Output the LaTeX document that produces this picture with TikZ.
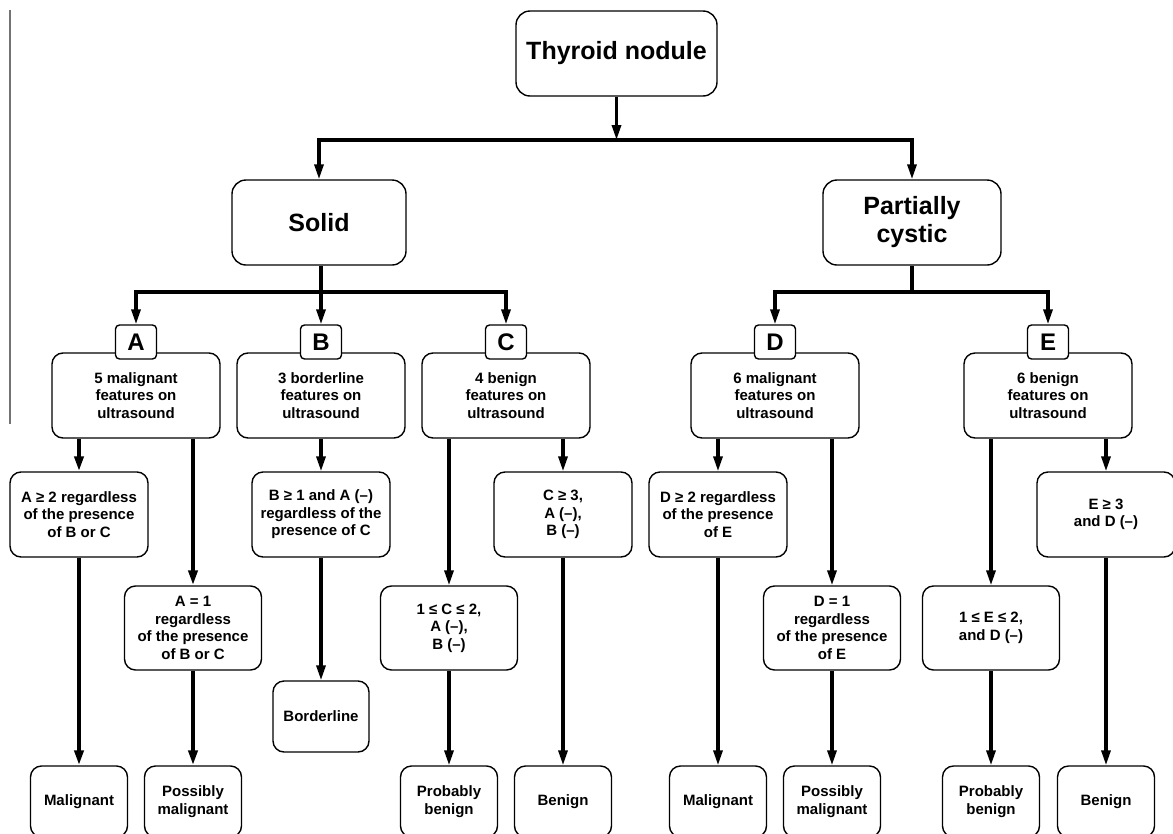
\documentclass[tikz,border=0pt]{standalone}
\usepackage{fontspec}
\setmainfont{Liberation Sans}
\usetikzlibrary{arrows.meta}
\tikzset{
  box/.style={draw, line width=1.4pt, rounded corners=11pt, fill=white, align=center, inner sep=0pt,
    font=\bfseries\fontsize{15}{17.4}\selectfont},
  big/.style={box, rounded corners=14pt, font=\bfseries\fontsize{25}{28}\selectfont},
  letterbox/.style={box, rounded corners=4pt, minimum width=41pt, minimum height=34pt,
    font=\bfseries\fontsize{24}{24}\selectfont},
  feat/.style={box, minimum width=168pt, minimum height=85pt},
  condup/.style={box, minimum width=138pt, minimum height=85pt},
  condlow/.style={box, minimum width=137pt, minimum height=84pt},
  outbox/.style={box, minimum width=97pt, minimum height=71pt},
  conn/.style={line width=3.2pt},
  arr/.style={conn, -{Triangle[width=9pt,length=15pt]}},
  thickarr/.style={arr, line width=4pt},
}
\begin{document}
\begin{tikzpicture}[x=1pt,y=-1pt]
\useasboundingbox (0,0) rectangle (1173,833);
\fill[white] (0,0) rectangle (1173,833);
\draw[black!55, line width=2.2pt] (10,10) -- (10,424);

% top levels
\node[big, minimum width=201pt, minimum height=85pt] (thy) at (616.5,53.5) {Thyroid nodule};
\node[big, minimum width=174pt, minimum height=85pt] (solid) at (319,222.5) {Solid};
\node[big, minimum width=178pt, minimum height=85pt] (pc) at (912,222.5) {Partially\\cystic};

% feature boxes
\node[feat] (Af) at (136,395.5) {5 malignant\\features on\\ultrasound};
\node[feat] (Bf) at (321,395.5) {3 borderline\\features on\\ultrasound};
\node[feat] (Cf) at (506,395.5) {4 benign\\features on\\ultrasound};
\node[feat] (Df) at (775,395.5) {6 malignant\\features on\\ultrasound};
\node[feat] (Ef) at (1048,395.5) {6 benign\\features on\\ultrasound};

% letter boxes
\node[letterbox] (Al) at (136,342) {A};
\node[letterbox] (Bl) at (321,342) {B};
\node[letterbox] (Cl) at (506,342) {C};
\node[letterbox] (Dl) at (775,342) {D};
\node[letterbox] (El) at (1048,342) {E};

% upper conditions
\node[condup] (a2) at (79,514.5) {A ≥ 2 regardless\\of the presence\\of B or C};
\node[condup] (b1) at (321,514.5) {B ≥ 1 and A (–)\\regardless of the\\presence of C};
\node[condup] (c3) at (563,514.5) {C ≥ 3,\\A (–),\\B (–)};
\node[condup] (d2) at (718,514.5) {D ≥ 2 regardless\\of the presence\\of E};
\node[condup] (e3) at (1106,514.5) {E ≥ 3\\and D (–)};

% lower conditions
\node[condlow] (a1) at (193,628) {A = 1\\regardless\\of the presence\\of B or C};
\node[condlow] (c12) at (449,628) {1 ≤ C ≤ 2,\\A (–),\\B (–)};
\node[condlow] (d1) at (832,628) {D = 1\\regardless\\of the presence\\of E};
\node[condlow] (e12) at (991,628) {1 ≤ E ≤ 2,\\and D (–)};

% outcomes
\node[outbox, minimum width=96pt] (bord) at (321,716.5) {Borderline};
\node[outbox] (o1) at (79,801.5) {Malignant};
\node[outbox] (o2) at (193,801.5) {Possibly\\malignant};
\node[outbox] (o3) at (449,801.5) {Probably\\benign};
\node[outbox] (o4) at (563,801.5) {Benign};
\node[outbox] (o5) at (718,801.5) {Malignant};
\node[outbox] (o6) at (832,801.5) {Possibly\\malignant};
\node[outbox] (o7) at (991,801.5) {Probably\\benign};
\node[outbox] (o8) at (1106,801.5) {Benign};

% top connectors
\coordinate (t) at (616.5,140);
\draw[arr] (thy.south) -- (t);
\draw[arr] (t) -| (solid.north);
\draw[arr] (t) -| (pc.north);

\coordinate (s) at (321,292);
\draw[conn] (solid.south -| s) -- (s);
\draw[arr] (s) -- (Bl.north);
\draw[arr] (s) -| (Al.north);
\draw[arr] (s) -| (Cl.north);

\coordinate (p) at (912,292);
\draw[conn] (pc.south) -- (p);
\draw[arr] (p) -| (Dl.north);
\draw[arr] (p) -| (El.north);

% feature -> conditions
\draw[thickarr] (Af.south -| a2.north) -- (a2.north);
\draw[thickarr] (Af.south -| a1.north) -- (a1.north);
\draw[arr] (Bf.south) -- (b1.north);
\draw[arr] (Cf.south -| c12.north) -- (c12.north);
\draw[arr] (Cf.south -| c3.north) -- (c3.north);
\draw[arr] (Df.south -| d2.north) -- (d2.north);
\draw[arr] (Df.south -| d1.north) -- (d1.north);
\draw[arr] (Ef.south -| e12.north) -- (e12.north);
\draw[arr] (Ef.south -| e3.north) -- (e3.north);

% conditions -> outcomes
\draw[thickarr] (a2.south) -- (o1.north);
\draw[thickarr] (a1.south) -- (o2.north);
\draw[arr] (b1.south) -- (bord.north);
\draw[arr] (c12.south) -- (o3.north);
\draw[arr] (c3.south) -- (o4.north);
\draw[arr] (d2.south) -- (o5.north);
\draw[arr] (d1.south) -- (o6.north);
\draw[arr] (e12.south) -- (o7.north);
\draw[arr] (e3.south) -- (o8.north);
\end{tikzpicture}
\end{document}
